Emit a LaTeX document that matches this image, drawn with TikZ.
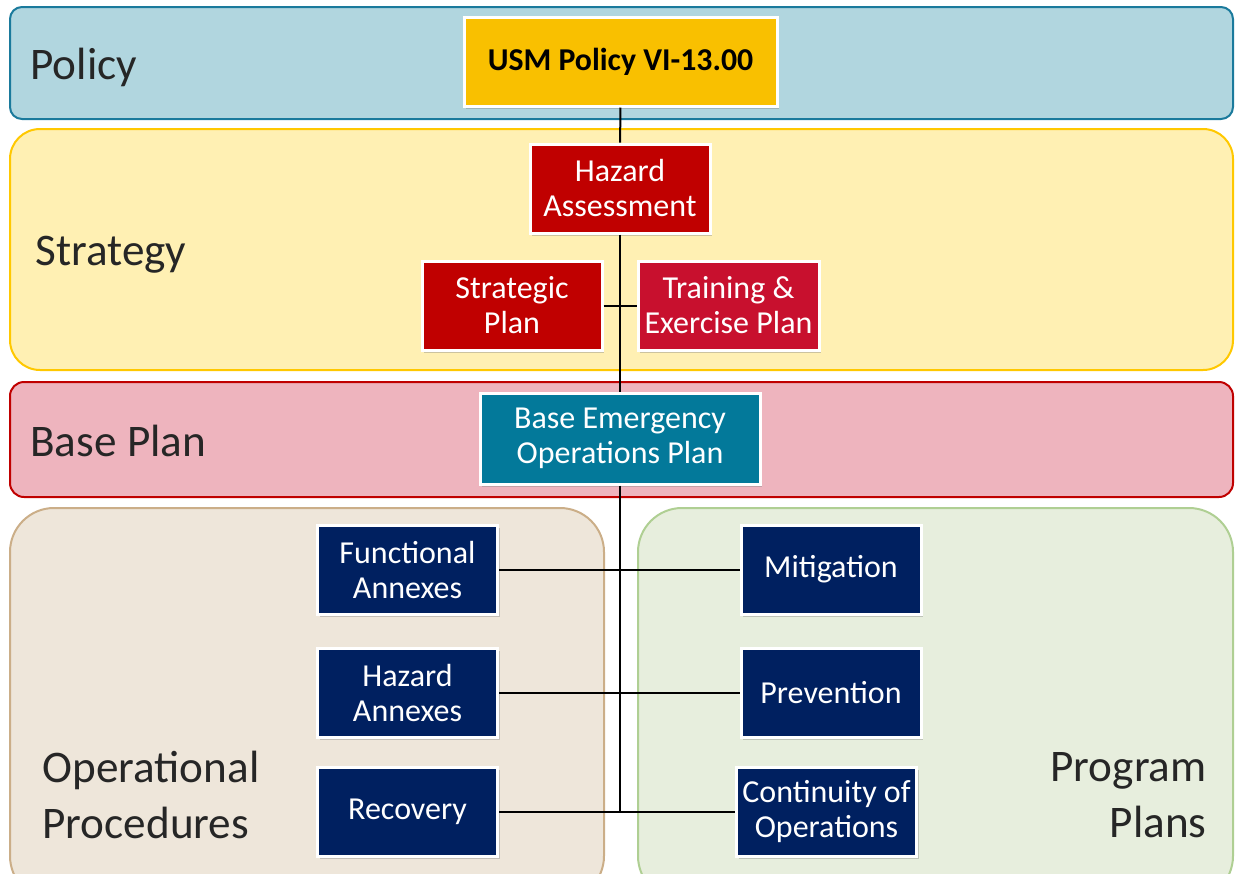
\documentclass[tikz,border=0pt]{standalone}
\usepackage{fontspec}
\setmainfont{Carlito}
\usepackage{xcolor}
\usepackage{tikz}
\usetikzlibrary{positioning,shadows}

\definecolor{policyfill}{HTML}{B1D6DF}
\definecolor{policyline}{HTML}{1A7A9C}
\definecolor{strategyfill}{HTML}{FFF0B3}
\definecolor{strategyline}{HTML}{FFC800}
\definecolor{basefill}{HTML}{EEB4BE}
\definecolor{baseline}{HTML}{C00000}
\definecolor{opsfill}{HTML}{EEE6DA}
\definecolor{opsline}{HTML}{CBAE88}
\definecolor{progfill}{HTML}{E7EEDD}
\definecolor{progline}{HTML}{AFCF93}
\definecolor{labelgray}{HTML}{262626}
\definecolor{policygold}{HTML}{F9C000}
\definecolor{hazardred}{HTML}{C00000}
\definecolor{trainred}{HTML}{C8102E}
\definecolor{baseteal}{HTML}{03799A}
\definecolor{annexnavy}{HTML}{002060}

\begin{document}
\begin{tikzpicture}[x=0.5pt, y=-0.5pt,
  box/.style={draw=white, line width=1.5pt, text=white, align=center,
    font=\fontsize{16}{17.5}\selectfont, minimum width=90pt, minimum height=44.5pt,
    inner sep=0pt, drop shadow={shadow xshift=1.2pt, shadow yshift=-1.5pt, opacity=0.4}},
  band/.style={line width=1pt},
  tier/.style={text=labelgray, font=\fontsize{22.6}{28}\selectfont, inner sep=0pt},
  link/.style={black, line width=1pt}]

\clip (0,0) rectangle (1236,873);

% tiers
\draw[band, draw=policyline, fill=policyfill, rounded corners=6pt] (10,7) rectangle (1233,119);
\draw[band, draw=strategyline, fill=strategyfill, rounded corners=15pt] (10,129) rectangle (1233,370);
\draw[band, draw=baseline, fill=basefill, rounded corners=7pt] (10,382) rectangle (1233,497);
\draw[band, draw=opsline, fill=opsfill, rounded corners=22pt] (10,508) rectangle (604,900);
\draw[band, draw=progline, fill=progfill, rounded corners=22pt] (638,508) rectangle (1233,900);

\node[tier, anchor=west] (policy_lbl) at (30,67) {Policy};
\node[tier, anchor=west] (strategy_lbl) at (35,255) {Strategy};
\node[tier, anchor=west] (base_lbl) at (30,441) {Base Plan};
\node[tier, anchor=west, align=left] (ops_lbl) at (42,795) {Operational\\Procedures};
\node[tier, anchor=east, align=right] (prog_lbl) at (1207,795) {Program\\Plans};

% plans
\node[box, fill=policygold, text=black, font=\fontsize{15.9}{17.5}\selectfont\bfseries, minimum width=156.5pt] (usm) at (620.5,61.5) {USM Policy VI-13.00};
\node[box, fill=hazardred] (hazard) at (620,188.5) {Hazard\\Assessment};
\node[box, fill=hazardred] (strategic) at (512,305.5) {Strategic\\Plan};
\node[box, fill=trainred, minimum width=90.5pt] (training) at (728.5,305.5) {Training \&\\Exercise Plan};
\node[box, fill=baseteal, minimum width=140pt, minimum height=45.5pt] (base) at (620,438.5) {Base Emergency\\Operations Plan};

\node[box, fill=annexnavy] (functional) at (407.5,569.5) {Functional\\Annexes};
\node[box, fill=annexnavy] (hazannex) at (407.5,692.5) {Hazard\\Annexes};
\node[box, fill=annexnavy] (recovery) at (407.5,811.5) {Recovery};
\node[box, fill=annexnavy] (mitigation) at (831,569.5) {Mitigation};
\node[box, fill=annexnavy] (prevention) at (831,692.5) {Prevention};
\node[box, fill=annexnavy] (continuity) at (826.5,811.5) {Continuity of\\Operations};

% connectors
\coordinate (trunk_end) at (620,811.5);
\draw[link] (usm) -- (hazard);
\draw[link] (hazard) -- (base);
\draw[link] (strategic) -- (training);
\draw[link] (base) -- (trunk_end);
\draw[link] (functional) -- (mitigation);
\draw[link] (hazannex) -- (prevention);
\draw[link] (recovery) -- (continuity);

\end{tikzpicture}
\end{document}
